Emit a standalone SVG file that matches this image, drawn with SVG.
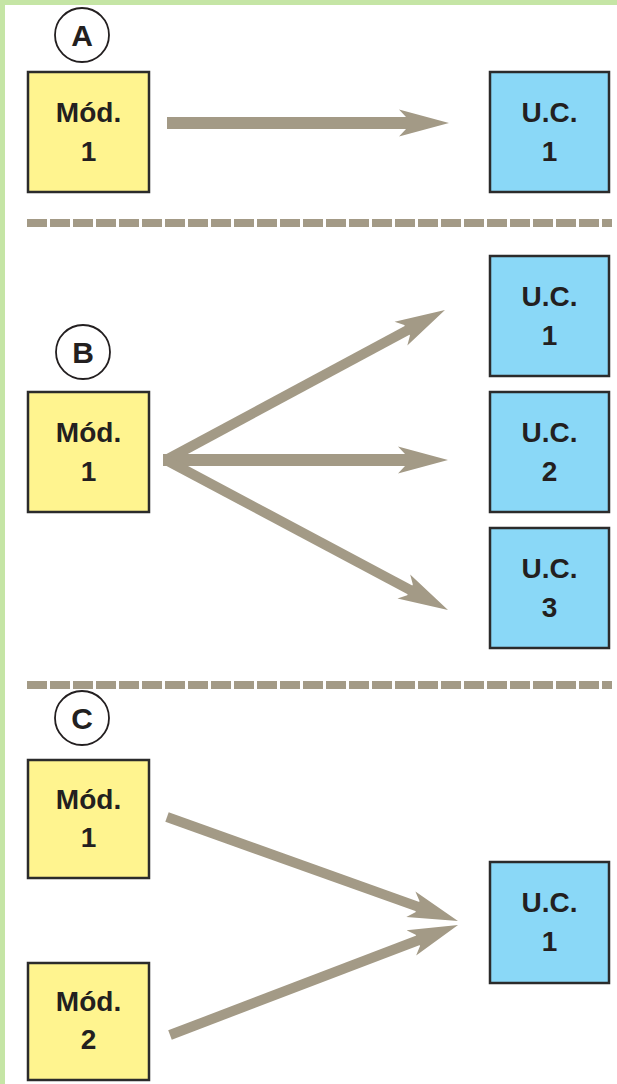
<svg xmlns="http://www.w3.org/2000/svg" width="617" height="1084" viewBox="0 0 617 1084">
<style>
.mod{fill:#fff48f;stroke:#2b2b2b;stroke-width:2.5}
.uc{fill:#8ad8f7;stroke:#2b2b2b;stroke-width:2.5}
.t{font-family:"Liberation Sans",Arial,sans-serif;font-weight:bold;font-size:28px;fill:#231f20;text-anchor:middle}
.lbl{fill:#fff;stroke:#231f20;stroke-width:1.8}
.lt{font-family:"Liberation Sans",Arial,sans-serif;font-weight:bold;font-size:30px;fill:#231f20;text-anchor:middle}
.dash{stroke:#a39a86;stroke-width:8;stroke-dasharray:20 3;fill:none}
.arr{stroke:#a39a86;fill:none;marker-end:url(#head)}
</style>
<defs>
<marker id="head" markerUnits="userSpaceOnUse" markerWidth="50" markerHeight="30" viewBox="0 0 50 30" refX="8" refY="15" orient="auto">
<path d="M0,1.5 L50,15 L0,28.5 L7,21 L7,9 Z" fill="#a39a86"/>
</marker>
</defs>
<rect x="0" y="0" width="617" height="1084" fill="#fff"/>
<rect x="0" y="0" width="617" height="5" fill="#c5e5a5"/>
<rect x="0" y="0" width="5" height="1084" fill="#c5e5a5"/>

<g id="separators">
<line class="dash" x1="27" y1="223" x2="612" y2="223"/>
<line class="dash" x1="27" y1="685" x2="612" y2="685"/>
</g>

<g id="connectors">
<line class="arr" stroke-width="12" x1="167" y1="123" x2="407" y2="123"/>
<line class="arr" stroke-width="10" x1="166" y1="460" x2="408" y2="329.8"/>
<line class="arr" stroke-width="12" x1="163" y1="460" x2="406" y2="460"/>
<line class="arr" stroke-width="10" x1="166" y1="460" x2="410.9" y2="590.3"/>
<line class="arr" stroke-width="10" x1="167" y1="817" x2="418.4" y2="906.9"/>
<line class="arr" stroke-width="10" x1="170" y1="1035" x2="418.8" y2="940"/>
</g>

<g id="label-A">
<circle class="lbl" cx="82" cy="35" r="27"/>
<text class="lt" x="82" y="46">A</text>
</g>
<g id="label-B">
<circle class="lbl" cx="83" cy="352" r="27"/>
<text class="lt" x="83" y="363">B</text>
</g>
<g id="label-C">
<circle class="lbl" cx="82" cy="718" r="27"/>
<text class="lt" x="82" y="729">C</text>
</g>

<g id="A-mod1">
<rect class="mod" x="28" y="72" width="121" height="120"/>
<text class="t" x="88.5" y="122">Mód.</text>
<text class="t" x="88.5" y="161">1</text>
</g>
<g id="A-uc1">
<rect class="uc" x="490" y="72" width="119" height="120"/>
<text class="t" x="549.5" y="122">U.C.</text>
<text class="t" x="549.5" y="161">1</text>
</g>

<g id="B-mod1">
<rect class="mod" x="28" y="392" width="121" height="120"/>
<text class="t" x="88.5" y="442">Mód.</text>
<text class="t" x="88.5" y="481">1</text>
</g>
<g id="B-uc1">
<rect class="uc" x="490" y="256" width="119" height="120"/>
<text class="t" x="549.5" y="306">U.C.</text>
<text class="t" x="549.5" y="345">1</text>
</g>
<g id="B-uc2">
<rect class="uc" x="490" y="392" width="119" height="120"/>
<text class="t" x="549.5" y="442">U.C.</text>
<text class="t" x="549.5" y="481">2</text>
</g>
<g id="B-uc3">
<rect class="uc" x="490" y="528" width="119" height="120"/>
<text class="t" x="549.5" y="578">U.C.</text>
<text class="t" x="549.5" y="617">3</text>
</g>

<g id="C-mod1">
<rect class="mod" x="28" y="760" width="121" height="118"/>
<text class="t" x="88.5" y="809">Mód.</text>
<text class="t" x="88.5" y="847">1</text>
</g>
<g id="C-mod2">
<rect class="mod" x="28" y="963" width="121" height="117"/>
<text class="t" x="88.5" y="1011">Mód.</text>
<text class="t" x="88.5" y="1049">2</text>
</g>
<g id="C-uc1">
<rect class="uc" x="490" y="862" width="119" height="121"/>
<text class="t" x="549.5" y="912">U.C.</text>
<text class="t" x="549.5" y="951">1</text>
</g>
</svg>
